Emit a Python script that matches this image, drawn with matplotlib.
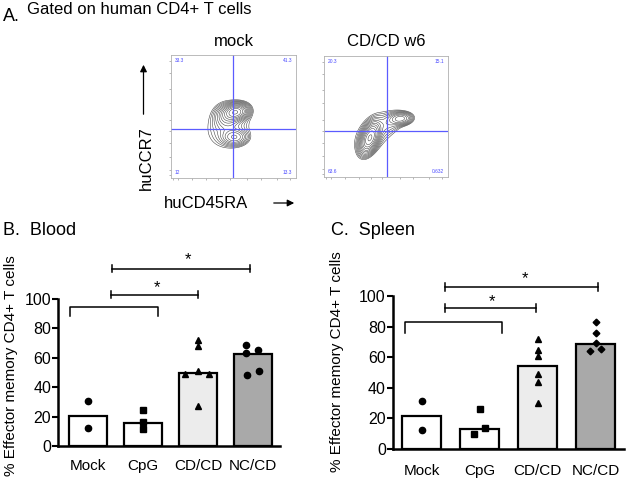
import numpy as np
import matplotlib
matplotlib.use("Agg")
import matplotlib.pyplot as plt

plt.rcParams['font.family'] = ['Liberation Sans', 'DejaVu Sans']

# ---------------- data ----------------
categories = ["Mock", "CpG", "CD/CD", "NC/CD"]
yticks = [0, 20, 40, 60, 80, 100]

blood_bars = [20.7, 15.9, 49.8, 62.7]
blood_pts = [[30.5, 12.5],
             [24.3, 16.6, 11.4],
             [72, 68, 51, 49, 49, 27],
             [69, 63, 65.5, 48.6, 51]]
blood_jit = [[0, 0],
             [0, 0, 0],
             [0, 0, 0, -0.24, 0.2, 0],
             [-0.12, -0.12, 0.09, -0.11, 0.1]]

spleen_bars = [21.4, 12.9, 54.2, 68.5]
spleen_pts = [[31.6, 12.4],
              [26, 9.8, 13.5],
              [71.7, 64.7, 60.8, 48.8, 44, 30.3],
              [82.8, 76, 69.5, 64.3, 65.2]]
spleen_jit = [[0, 0],
              [0, -0.1, 0.1],
              [0, 0, 0, 0, 0, 0],
              [0, 0, 0, -0.1, 0.1]]

# brackets: (x1, x2, y, star, star_x, star_y, drop)
blood_brackets = [(0.44, 2.95, 120.7, True, 1.82, 126.5, None),
                  (0.42, 2.0, 103.0, True, 1.25, 108.0, None),
                  (-0.33, 1.27, 94.3, False, None, None, 88.1)]
spleen_brackets = [(0.40, 3.04, 106.0, True, 1.78, 111.5, None),
                   (0.40, 1.97, 92.0, True, 1.22, 96.5, None),
                   (-0.29, 1.38, 82.8, False, None, None, 75.8)]

# flow plots: quadrant numbers (UL, UR, LL, LR)
mock_quads = ["33.3", "41.3", "12", "13.3"]
cdcd_quads = ["20.3", "15.1", "63.6", "0.632"]
# density components (cx, cy, sx, sy, rho, weight) in axis fraction
mock_comps = [(0.52, 0.535, 0.05, 0.035, 0.15, 1.0),
              (0.51, 0.33, 0.055, 0.035, 0.0, 0.30),
              (0.46, 0.42, 0.11, 0.11, 0.15, 0.10),
              (0.45, 0.50, 0.055, 0.055, 0.0, 0.22)]
cdcd_comps = [(0.37, 0.32, 0.04, 0.065, 0.45, 1.0),
              (0.62, 0.48, 0.05, 0.028, 0.1, 0.35),
              (0.41, 0.37, 0.11, 0.11, 0.45, 0.08),
              (0.54, 0.45, 0.06, 0.05, 0.3, 0.08)]

W, H = 626, 490
fig = plt.figure(figsize=(W / 100, H / 100), dpi=100)


def rect(l, t, r, b):
    return [l / W, 1 - b / H, (r - l) / W, (b - t) / H]


def ft(x, y):
    return x / W, 1 - y / H


# ---------------- panel A ----------------
fig.text(*ft(3, 21), "A.", fontsize=13, ha='left', va='baseline')
fig.text(*ft(27, 13.5), "Gated on human CD4+ T cells", fontsize=12, ha='left', va='baseline')


def flow(box, comps, quads, vx, hy, title, tx):
    ax = fig.add_axes(rect(*box))
    g = np.linspace(0, 1, 300)
    X, Y = np.meshgrid(g, g)
    Z = np.zeros_like(X)
    for cx, cy, sx, sy, rho, w in comps:
        dx = (X - cx) / sx
        dy = (Y - cy) / sy
        q = (dx ** 2 - 2 * rho * dx * dy + dy ** 2) / (1 - rho ** 2)
        Z += w * np.exp(-0.5 * q)
    zmax = Z.max()
    levels = zmax * np.geomspace(0.03, 0.93, 13)
    ax.contour(X, Y, Z, levels=levels, colors='#404040', linewidths=0.38)
    ax.axvline(vx, color='#5b5bff', lw=0.9)
    ax.axhline(hy, color='#5b5bff', lw=0.9)
    ax.set_xlim(0, 1)
    ax.set_ylim(0, 1)
    for s in ax.spines.values():
        s.set_color('#b0b0b0')
        s.set_linewidth(0.6)
    tk = [0.02, 0.06, 0.17, 0.28, 0.38, 0.47, 0.61, 0.72, 0.85, 0.95]
    ax.set_xticks(tk)
    ax.set_yticks(tk)
    ax.tick_params(length=1.5, width=0.5, color='#999999', labelbottom=False, labelleft=False)
    qc = '#4b4bff'
    ax.text(0.03, 0.975, quads[0], fontsize=3.5, color=qc, ha='left', va='top', transform=ax.transAxes)
    ax.text(0.97, 0.975, quads[1], fontsize=3.5, color=qc, ha='right', va='top', transform=ax.transAxes)
    ax.text(0.03, 0.02, quads[2], fontsize=3.5, color=qc, ha='left', va='bottom', transform=ax.transAxes)
    ax.text(0.97, 0.02, quads[3], fontsize=3.5, color=qc, ha='right', va='bottom', transform=ax.transAxes)
    fig.text(*ft(tx, 46), title, fontsize=12, ha='center', va='baseline')


flow((170.7, 55, 296, 177.7), mock_comps, mock_quads, 0.5, 0.395, "mock", 234)
flow((324, 55.7, 448, 176.7), cdcd_comps, cdcd_quads, 0.51, 0.38, "CD/CD w6", 386.5)

fig.text(*ft(146, 190), "huCCR7", fontsize=12, rotation=90, ha='center', va='bottom')
fig.add_artist(matplotlib.patches.FancyArrowPatch(ft(143.5, 117), ft(143.5, 62),
                                                  transform=fig.transFigure, arrowstyle='-|>',
                                                  mutation_scale=10, lw=0.9, color='black'))
fig.text(*ft(164, 208), "huCD45RA", fontsize=12, ha='left', va='baseline')
fig.add_artist(matplotlib.patches.FancyArrowPatch(ft(271, 203), ft(297, 203),
                                                  transform=fig.transFigure, arrowstyle='-|>',
                                                  mutation_scale=10, lw=0.9, color='black'))

# ---------------- bar panels ----------------
bar_colors = ['white', 'white', '#ececec', '#a9a9a9']
markers_blood = ['o', 's', '^', 'o']
markers_spleen = ['o', 's', '^', 'D']
msizes_blood = [4.5, 4.2, 4.6, 4.5]
msizes_spleen = [4.5, 4.2, 4.6, 3.4]


def barpanel(box, xlim, bars, pts, jit, brackets, markers, msizes, width, title, title_xy,
             ylabel_xy, xpad):
    ax = fig.add_axes(rect(*box))
    x = np.arange(len(categories))
    ax.bar(x, bars, width=width, color=bar_colors, edgecolor='black', linewidth=1.6, zorder=2)
    for i in range(len(categories)):
        xs = x[i] + np.array(jit[i])
        ax.plot(xs, pts[i], linestyle='none', marker=markers[i], ms=msizes[i],
                color='black', zorder=3, clip_on=False)
    ax.set_xlim(*xlim)
    ax.set_ylim(0, 100)
    ax.set_yticks(yticks)
    ax.set_xticks(x)
    ax.set_xticklabels(categories, fontsize=11)
    ax.tick_params(axis='y', labelsize=11.5, length=4, width=1.5, pad=1)
    ax.tick_params(axis='x', length=0, pad=xpad)
    for s in ['top', 'right']:
        ax.spines[s].set_visible(False)
    for s in ['left', 'bottom']:
        ax.spines[s].set_linewidth(1.8)
    for x1, x2, y, star, sx, sy, drop in brackets:
        if drop is None:
            ax.plot([x1, x2], [y, y], color='black', lw=1.1, clip_on=False)
            for xx in (x1, x2):
                ax.plot([xx, xx], [y - 2.6, y + 2.6], color='black', lw=1.1, clip_on=False)
        else:
            ax.plot([x1, x1, x2, x2], [drop, y, y, drop], color='black', lw=1.1, clip_on=False)
        if star:
            ax.text(sx, sy, "*", fontsize=12, ha='center', va='center')
    fig.text(*ft(*title_xy), title, fontsize=13, ha='left', va='baseline')
    fig.text(*ft(*ylabel_xy), "% Effector memory CD4+ T cells", fontsize=11,
             rotation=90, ha='center', va='center')
    return ax


barpanel((58, 299, 280, 446), (-0.545, 3.49), blood_bars, blood_pts, blood_jit,
         blood_brackets, markers_blood, msizes_blood, 0.69, "B.  Blood", (3, 235), (11, 366), 9)
barpanel((392.7, 296, 624, 449), (-0.5, 3.49), spleen_bars, spleen_pts, spleen_jit,
         spleen_brackets, markers_spleen, msizes_spleen, 0.67, "C.  Spleen", (331, 235), (337, 362), 11)

fig.savefig("out.png", dpi=100)
